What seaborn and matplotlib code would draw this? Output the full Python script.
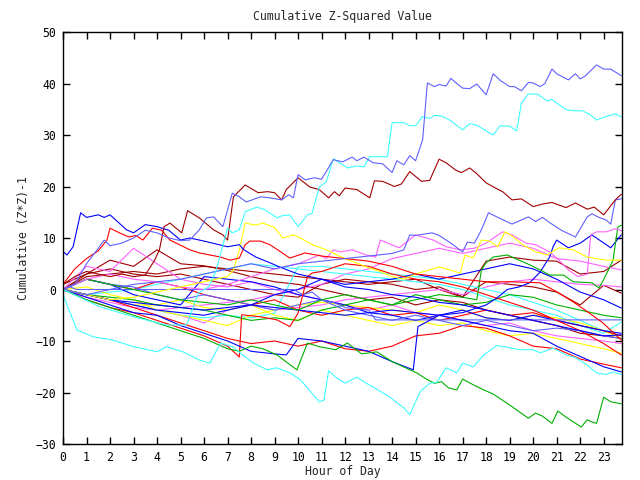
import matplotlib
matplotlib.use("Agg")
import matplotlib.pyplot as plt
import seaborn as sns
import pandas as pd

# ---------------- data ----------------
HOURS = list(range(24)) + [23.75]

# distinct upper lines (finer resolution)
lb_top_h = [0, 0.5, 1, 1.5, 1.75, 2, 2.5, 3, 3.5, 4, 4.5, 5, 5.4, 5.8, 6.1, 6.4, 6.8, 7.2, 7.5, 7.8, 8.4, 8.8, 9.3, 9.6, 9.8,
            10.0, 10.3, 10.7, 11.0, 11.5, 11.9, 12.3, 12.5, 12.8, 13.2, 13.6, 14.0, 14.2, 14.5, 14.75, 15.0, 15.3, 15.5,
            15.8, 16.0, 16.3, 16.5, 16.75, 17.0, 17.3, 17.6, 18.0, 18.3, 18.6, 19.0, 19.2, 19.5, 19.8, 20.0, 20.3, 20.5,
            20.8, 21.0, 21.5, 21.8, 22.0, 22.2, 22.7, 23.0, 23.3, 23.75]
lb_top_v = [0, 1, 5, 8, 9.6, 8.5, 9, 10, 11.5, 11, 10, 9.5, 9.6, 11.6, 13.9, 14.1, 12.2, 18.7, 18, 17.0, 18.0, 17.8, 17.4, 18.4,
            17.8, 22.3, 21.3, 21.7, 21.4, 25.2, 24.8, 25.7, 25.0, 25.7, 24.6, 24.4, 22.7, 25.0, 24.2, 26.0, 25.0, 29.1, 40.1,
            39.4, 39.8, 39.5, 41.0, 40.0, 39.1, 39.0, 39.9, 37.8, 41.9, 40.6, 39.4, 39.4, 38.6, 40.2, 40.1, 39.4, 40.0,
            42.8, 41.9, 40.7, 41.9, 40.9, 41.4, 43.6, 42.8, 42.8, 41.5]

cyan_top_h = [0, 1.6, 3.0, 4.4, 5.2, 5.3, 5.75, 6.2, 6.5, 7.0, 7.2, 7.5, 7.75, 8.25, 8.6, 9.1, 9.3, 9.65, 10.0, 10.4, 10.6,
              10.9, 11.2, 11.5, 12.1, 12.5, 12.8, 13.05, 13.8, 14.0, 14.5, 14.75, 15.0, 15.3, 15.6, 15.8, 16.1, 16.45,
              17.0, 17.3, 17.6, 18.3, 18.6, 19.0, 19.3, 19.5, 19.8, 20.2, 20.6, 20.8, 21.1, 21.4, 21.8, 22.1, 22.4, 22.7,
              23.1, 23.5, 23.75]
cyan_top_v = [0, -3.4, -5.3, -6.9, -6.9, -6.5, -0.7, 0.5, 3.5, 11.9, 11.0, 11.6, 15.1, 16.0, 15.5, 13.9, 14.3, 14.5, 12.2,
              14.5, 14.8, 19.9, 20.9, 25.4, 23.6, 24.0, 23.8, 25.8, 25.8, 32.4, 32.4, 31.8, 31.8, 33.6, 33.2, 33.8, 33.7,
              32.9, 31.0, 32.2, 31.9, 30.0, 31.8, 31.7, 30.8, 36.2, 38.0, 37.9, 36.6, 36.9, 35.9, 34.9, 34.7, 34.7, 34.0,
              32.9, 33.6, 34.1, 33.5]

dred_top_h = [0, 0.5, 1, 1.5, 2, 2.5, 3, 3.5, 3.9, 4.1, 4.3, 4.55, 5.05, 5.3, 5.8, 6.4, 6.8, 7.0, 7.25, 7.75, 8.3, 8.7, 9.0,
              9.3, 9.5, 10.0, 10.5, 10.9, 11.3, 11.55, 11.75, 12.0, 12.5, 13.05, 13.25, 13.6, 14.1, 14.4, 14.75, 15.25,
              15.6, 16.0, 16.3, 16.7, 16.95, 17.3, 17.6, 18.0, 18.4, 18.7, 19.1, 19.5, 20.0, 20.4, 20.8, 21.4, 21.8,
              22.3, 22.6, 23.0, 23.5, 23.75]
dred_top_v = [1, 2.5, 3.5, 3, 2.5, 3, 2.5, 2.8, 5.7, 7.7, 12.2, 12.9, 11.0, 15.3, 13.9, 11.6, 10.6, 9.6, 18.0, 20.3, 18.8,
              19.0, 18.8, 17.4, 19.4, 21.7, 19.9, 19.4, 17.8, 19.0, 18.2, 19.7, 19.4, 17.8, 21.1, 21.0, 20.0, 20.5, 22.9,
              21.0, 21.2, 25.3, 24.6, 23.2, 22.7, 23.6, 22.5, 20.7, 19.7, 19.0, 17.4, 17.6, 16.1, 16.6, 16.9, 15.9, 16.8,
              15.6, 16.0, 14.5, 17.4, 18.5]

lb2_h = [0, 1, 2, 3, 4, 5, 6, 7, 8, 9, 10, 11, 12, 13, 14, 14.5, 14.75, 15.0, 15.7, 16.0, 16.5, 17.0, 17.2, 17.5, 17.8, 18.1,
         18.5, 19.1, 19.5, 19.8, 20.1, 20.4, 20.7, 21.2, 21.8, 22.3, 22.5, 22.8, 23.1, 23.3, 23.5, 23.75]
lb2_v = [0, -1, 0, 1, 1.5, 2, 3, 4, 5, 4, 5, 5.5, 6, 6.5, 7, 7.7, 10.6, 10.5, 11.0, 10.5, 9, 7.3, 9.2, 9.0, 11.6, 14.9,
         14.0, 12.7, 13.5, 14.1, 13.2, 14.0, 13.0, 11.5, 10.2, 14.1, 14.7, 14.0, 13.5, 12.7, 17.4, 17.6]

navy_h = [0, 0.17, 0.43, 0.75, 1, 1.5, 1.75, 2, 2.7, 3, 3.5, 4, 4.5, 5, 5.4, 6, 7, 7.5, 7.7, 8.2, 8.8, 9.2, 10, 11, 12, 13, 14,
          15, 16, 17, 18, 19, 20, 21, 22, 23, 23.75]
navy_v = [7.4, 6.7, 8.3, 14.9, 14, 14.5, 14, 14.5, 11.6, 11, 12.6, 12.2, 11.5, 9.6, 10, 9.4, 8.3, 8.7, 7.7, 6.3, 5.2, 4.4, 3,
          2, 0.5, 0, -1, -1.5, -2.5, -3, -4, -5, -6, -7, -8, -9, -8.8]

red_top_h = [0, 0.5, 1, 1.5, 1.87, 2, 2.4, 2.8, 3.1, 3.4, 3.8, 4.2, 4.55, 5.4, 5.8, 6.7, 7.1, 7.5, 7.75, 7.95, 8.4, 8.8, 9.2,
             9.65, 10.3, 11, 12, 13, 14, 15, 16, 17, 18, 19, 20.3, 21.1, 21.7, 22.4, 22.97, 23.75]
red_top_v = [1, 4, 6, 7.5, 9.6, 11.9, 11, 10.2, 10.5, 9.6, 11.9, 11.5, 9.6, 7.7, 7.1, 6.3, 5.7, 6.1, 8.7, 9.4, 9.4, 8.7, 7.5,
             6.1, 7.1, 6.5, 6, 5.5, 4.5, 3, 2.5, 2, 1.5, 1.5, 1.3, -0.7, -2.4, -4.6, -6.5, -9.8]

yel1_h = [0, 1, 2, 3, 4, 5, 6, 7, 7.25, 7.5, 7.75, 8.2, 8.5, 9.0, 9.35, 9.8, 10.1, 10.6, 11.2, 12, 12.9, 13.5, 14.0, 14.5,
          15, 16, 16.9, 17.1, 17.45, 17.8, 18.15, 18.5, 18.8, 19.1, 19.55, 20.1, 20.6, 21.1, 21.7, 22.3, 23.1, 23.75]
yel1_v = [0, -1, -2, -1.5, -0.5, 0.5, 1.5, 2.5, 3.8, 7.7, 12.9, 12.5, 12.9, 12, 10.0, 10.6, 10.0, 8.7, 7.7, 6, 4.4, 3.5, 2.5,
          2, 3, 4.4, 3.2, 6.7, 6.1, 9.6, 9.4, 8.3, 11.2, 10.4, 8.7, 7.3, 6.7, 8.1, 7.7, 6.3, 5.7, 5.7]

green_bot_h = [0, 1, 2, 3, 4, 5, 6, 7, 7.5, 8, 8.5, 9.1, 9.95, 10.4, 10.9, 11.6, 12.1, 12.7, 13.35, 14.0, 15.05, 15.5, 15.8,
               16.1, 16.4, 16.75, 17.0, 17.45, 17.9, 18.3, 18.9, 19.3, 19.8, 20.1, 20.4, 20.8, 21.05, 21.4, 22.05, 22.3,
               22.5, 22.7, 23.0, 23.3, 23.75]
green_bot_v = [0, -2, -3.5, -5, -6.5, -8, -9.5, -11.5, -12, -11, -11.5, -12.7, -15.6, -10.4, -11.1, -11.7, -10.4, -12.5,
               -12.1, -14.0, -16.2, -17.5, -18.2, -17.9, -19.1, -19.5, -17.4, -18.5, -19.5, -20.3, -22.1, -23.4, -25.0,
               -24.0, -24.6, -26.0, -23.6, -24.8, -26.7, -25.3, -25.7, -26.0, -20.9, -21.8, -22.2]

cyan_bot_h = [0, 0.6, 1.3, 2.1, 3.0, 4.0, 4.4, 5.1, 5.8, 6.25, 6.7, 7.2, 8.1, 8.7, 9.1, 9.65, 10.1, 10.9, 11.1, 11.3, 11.6,
              12.0, 12.5, 12.9, 13.4, 13.9, 14.5, 14.75, 15.2, 15.6, 15.9, 16.3, 16.75, 17.0, 17.45, 17.9, 18.45, 18.9,
              19.4, 20.0, 20.3, 20.85, 21.4, 21.8, 22.3, 22.7, 23.1, 23.4, 23.75]
cyan_bot_v = [-1, -7.9, -9.2, -9.8, -11.1, -12.1, -11.1, -12.1, -13.7, -14.3, -10.4, -11.1, -14.3, -15.6, -15.2, -16.2,
              -17.5, -21.8, -21.5, -15.8, -17.0, -18.2, -17.0, -18.2, -19.5, -20.9, -23.0, -24.3, -19.8, -18.2, -18.0,
              -15.2, -16.2, -14.3, -15.0, -12.7, -10.9, -11.2, -11.7, -11.7, -12.3, -11.4, -12.7, -13.2, -14.7, -16.2,
              -16.5, -16.0, -16.5]

flat_lb_h = [0, 0.3, 0.57, 9.8, 10.2, 10.6, 11.0, 11.5, 12.0, 12.5, 13.0, 13.3, 23.75]
flat_lb_v = [0, 0.5, 0, 0, -1, -0.5, -2, -2.5, -3.5, -3.8, -4, -5.9, -5.9]

mag2_h = [0, 1, 2, 3, 4, 5, 6, 7, 8, 9, 10, 10.6, 10.9, 11.2, 11.5, 11.8, 12.3, 12.9, 13.3, 13.5, 14.3, 15.0, 15.75, 16.3,
          16.9, 17.5, 18, 18.7, 19.1, 19.7, 20.1, 20.7, 21.1, 21.5, 21.9, 22.3, 22.45, 22.7, 23.1, 23.5, 23.75]
mag2_v = [0, 2, 3, 2, 1.5, 0.5, 0, 1, 2.5, 4, 5, 6.1, 6.7, 6, 7.7, 7.3, 7.7, 6.7, 6.3, 9.6, 8.1, 10.6, 9.6, 8.3, 7.7, 8, 9,
          11.2, 10.6, 9.0, 8.7, 7.3, 5.7, 3.8, 2.5, 3, 10.6, 11.2, 11.2, 11.8, 11.4]

green1_h = [0, 1, 2, 3, 4, 5, 6, 7, 8, 9, 10, 11, 12, 13, 14, 15, 16, 17, 17.6, 17.8, 18.0, 18.3, 18.9, 19.4, 19.85, 20.3,
            20.7, 21.3, 21.7, 22.5, 22.8, 23.0, 23.2, 23.4, 23.6, 23.75]
green1_v = [0, 2, 1, 0, -1, -2, -2.5, -3, -2, -3, -4, -2, -1, -2, -3, -2, -1, -1.5, -2, 3.8, 5.2, 6.3, 6.7, 5.7, 4.8, 3.8,
            2.8, 2.8, 1.5, 1.3, 0.3, 1.9, 3.8, 5.7, 12.1, 12.5]

blue_up_h = [0, 2, 4, 6, 8, 10, 12, 14, 16, 17, 18, 18.5, 18.9, 19.4, 19.85, 20.3, 20.7, 20.85, 21.0, 21.5, 22.0, 22.5, 23.3,
             23.75]
blue_up_v = [0, -2, -3, -4, -3, -4, -5, -4, -5, -4.5, -3, -1.5, 0, 0.5, 1.3, 3.4, 6.3, 8.3, 9.6, 8.1, 9.0, 10.6, 8.1, 10.6]

red_jump_h = [0, 1, 2, 3, 4, 5, 6, 7, 7.5, 7.6, 8.4, 9.1, 9.65, 10, 10.4, 10.6, 11, 12, 13, 14, 15, 16, 17, 18, 19, 20, 21,
              22, 23, 23.75]
red_jump_v = [0, -2, -3.5, -4.5, -6, -7.5, -9, -11, -13.1, -4.9, -5.3, -5.9, -7.2, -4.6, 2.5, 3.2, 3.5, 5, 4.5, 3, 2, 1.5,
              0.5, -1, -2.5, -4, -6, -8, -10.5, -12.7]

blue_jump_h = [0, 1, 2, 3, 4, 5, 6, 7, 8, 9, 9.5, 10, 11, 12, 13, 14, 14.9, 15.1, 16, 17, 18, 19, 20, 21, 22, 23, 23.75]
blue_jump_v = [0, -1.5, -3, -4.5, -5, -7, -8.5, -10, -12, -12.5, -12.7, -9.5, -10, -11, -12, -14, -15.6, -7.2, -5, -6, -7,
               -8, -8.5, -11, -13, -15, -16]

# hourly tangle lines
dred2_v = [0, 2.5, 3, 3.5, 3, 4, 4.5, 4, 3.5, 3, 2.5, 2, 1.5, 1, 1.5, 2, 0, -1.5, 5.5, 6.3, 5.7, 5.5, 3, 3.5, 5.7]
dred3_v = [0, 3, 4, 3, 2.5, 3, 2, 1, 0, -1, -1.5, 1, 2, 1.5, 1, 0, 0.5, -1.4, 1.5, 1.0, 0.5, -0.5, -3.0, 0.8, -0.7]
dred4_v = [1, 3, 5.7, 4.5, 7.7, 5, 4.6, 3.7, 2.5, 1.5, 1, 0, -1, -2, -1.5, -3, -2, -2.5, -4, -5, -6, -7, -8.5, -9, -9.5]
mag3_v = [0, -1, -2, -3, -4, -3.5, -3, -2.5, -2, -1, 0, 1, 3, 4, 6, 7, 8, 7, 8, 9, 8, 6, 5.5, 4.5, 3.8]
mag4_v = [0, -1.5, -2.5, -3.5, -4, -5, -6.5, -4, -3, -4, -3.5, -3, -2, -1.5, -1, -0.5, 0, -1, 0.5, 1.5, 2, 1.5, 1, 0.8, 0.5]
mag1_v = [0, 4.5, 3.5, 8, 5, 2, 1, 0.5, 1.5, 0, -1, -2, -3, -4, -3, -4.5, -5, -6, -7, -6.5, -8, -9, -9.5, -10, -10.5]
cyan3_v = [0, -1, -0.5, 0, 1, 2, 3, 4, 5, 4.5, 4, 3.5, 3, 2.5, 2, 1.5, 1, 0, -1.5, -3, -4, -5, -7, -8.5, -6.3]
cyan4_v = [0, -1, -2, -3, -4, -5, -5.5, -5, -5.5, -4.6, 4.4, 4.5, 4, 3.5, 3, 2.5, 2, 1, 0, -1, -2.5, -4, -6, -8, -9]
yel2_v = [0, -1, -2, -3, -3, -2, -3.5, -4, -3, -5, -6, -4, -5, -6, -7, -6, -7, -6.5, -8, -9, -8.5, -9.5, -10.5, -11.5, -12.4]
yel3_v = [0, 0.5, -1, -2, -4, -5, -6, -7, -5, -4, -3, -2.5, -3, -3.5, -4, -4.5, -3, -4, -5.5, -6, -5, -5.5, -6.5, -8, -9.5]
red4_v = [0, -1, -2, -3.5, -5, -6.5, -8, -9.5, -10.5, -10, -11, -10, -11.5, -12, -11, -9, -8.5, -7, -7.5, -9, -11, -11.5,
          -13.5, -14.5, -15.2]
red5_v = [0, 2, 1, 0, 1.5, 0.5, -1, -2, -3, -2, -4, -5, -4, -3.5, -5, -4.5, -6, -5, -4, -5, -4.5, -6, -7, -8, -9]
blue2_v = [0, -1, -2, -3, -4, -4.5, -5, -4, -3, -1, 0, 2, 1, 1.5, 2, 3, 2, 3, 4, 5, 4, 2, -0.5, -2, -3.6]
blue3_v = [0, 2, 1, -1, -2, -3, 2.5, 2, 1.5, 0.5, -1, -2, -3, -4.5, -5, -6, -5, -4, -5.5, -6, -5, -6, -7, -8, -8.5]
green2_v = [0, -1, -1.5, -2, -3, -3.5, -4, -5, -6, -5.5, -6, -4, -3, -2, -3, -1, -2, -3, -2.5, -1, -1.5, -3, -4, -5, -5.5]
lb3_v = [0, 2, 1, 0.5, -1, -2, -1, -2, -3, -4, -3, -2, -4, -5, -6, -5, -6, -7, -6, -7, -8, -7.5, -8, -9, -9.5]

RED, GREEN, BLUE, MAGENTA = "#ff0000", "#00b000", "#0000ff", "#ff60ff"
CYAN, DRED, YELLOW, LBLUE = "#40ffff", "#a00000", "#ffff00", "#6060ff"

series = [
    (HOURS, dred2_v, DRED), (HOURS, dred3_v, DRED), (HOURS, dred4_v, DRED),
    (HOURS, mag1_v, MAGENTA), (HOURS, mag3_v, MAGENTA), (HOURS, mag4_v, MAGENTA),
    (HOURS, cyan3_v, CYAN), (HOURS, cyan4_v, CYAN),
    (HOURS, yel2_v, YELLOW), (HOURS, yel3_v, YELLOW),
    (HOURS, red4_v, RED), (HOURS, red5_v, RED),
    (HOURS, blue2_v, BLUE), (HOURS, blue3_v, BLUE),
    (HOURS, green2_v, GREEN), (HOURS, lb3_v, LBLUE),
    (flat_lb_h, flat_lb_v, LBLUE), (red_jump_h, red_jump_v, RED), (blue_jump_h, blue_jump_v, BLUE),
    (blue_up_h, blue_up_v, BLUE), (green1_h, green1_v, GREEN), (mag2_h, mag2_v, MAGENTA),
    (yel1_h, yel1_v, YELLOW), (red_top_h, red_top_v, RED), (navy_h, navy_v, BLUE),
    (green_bot_h, green_bot_v, GREEN), (cyan_bot_h, cyan_bot_v, CYAN),
    (lb2_h, lb2_v, LBLUE), (dred_top_h, dred_top_v, DRED),
    (cyan_top_h, cyan_top_v, CYAN), (lb_top_h, lb_top_v, LBLUE),
]

# ---------------- plot ----------------
sns.set_theme(style="white")
plt.rcParams["font.family"] = ["DejaVu Sans Mono"]

fig = plt.figure(figsize=(6.4, 4.8), dpi=100)
ax = fig.add_axes([63 / 640, 1 - 444 / 480, (622 - 63) / 640, (444 - 32) / 480])

for i, (h, v, c) in enumerate(series):
    df = pd.DataFrame({"hour": h, "value": v})
    sns.lineplot(data=df, x="hour", y="value", color=c, linewidth=0.8,
                 sort=False, estimator=None, ax=ax, legend=False)

ax.set_xlim(0, 23.78)
ax.set_ylim(-30, 50)
ax.set_xticks(range(24))
ax.set_yticks(range(-30, 51, 10))
ax.tick_params(direction="in", length=5, width=1, colors="black", labelsize=8.3,
               top=True, right=True, bottom=True, left=True, pad=5)
for s in ax.spines.values():
    s.set_color("black")
    s.set_linewidth(1)
ax.set_title("Cumulative Z-Squared Value", fontsize=8.3, pad=9)
ax.set_xlabel("Hour of Day", fontsize=8.3, labelpad=1)
ax.set_ylabel("Cumulative (Z*Z)-1", fontsize=8.3, labelpad=4)

fig.savefig("out.png", dpi=100, facecolor="white")
